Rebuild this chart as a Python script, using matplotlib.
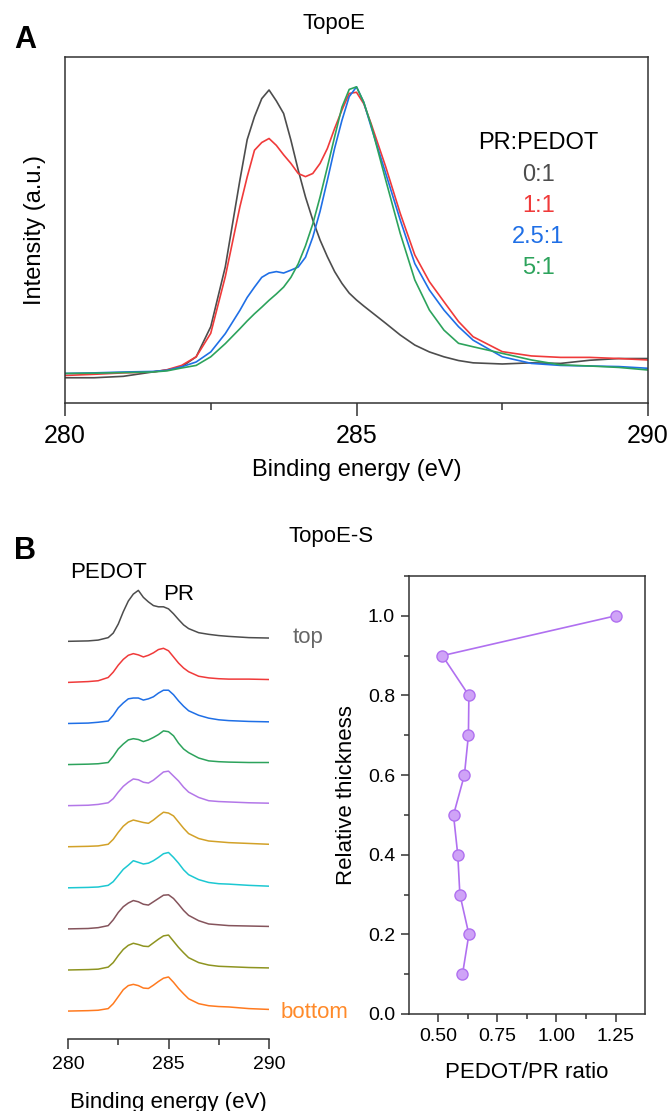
import matplotlib
matplotlib.use("Agg")
import matplotlib.pyplot as plt
from matplotlib.ticker import MultipleLocator, FormatStrFormatter

plt.rcParams['font.family'] = ['Liberation Sans', 'DejaVu Sans']

# ---------------- Panel A data ----------------
energy_a = [280, 280.5, 281, 281.5, 281.75, 282, 282.25, 282.5, 282.75,
            283, 283.125, 283.25, 283.375, 283.5, 283.625, 283.75, 283.875, 284, 284.125,
            284.25, 284.375, 284.5, 284.625, 284.75, 284.875, 285, 285.125, 285.25,
            285.5, 285.75, 286, 286.25, 286.5, 286.75, 287,
            287.5, 288, 288.5, 289, 289.5, 290]
int_0_1 = [-0.02, -0.02, -0.015, 0.0, 0.007, 0.018, 0.053, 0.158, 0.367,
           0.669, 0.81, 0.89, 0.953, 0.983, 0.945, 0.901, 0.808, 0.704, 0.61,
           0.53, 0.46, 0.402, 0.35, 0.309, 0.275, 0.251, 0.23, 0.21,
           0.17, 0.129, 0.094, 0.07, 0.053, 0.04, 0.032,
           0.028, 0.032, 0.03, 0.041, 0.047, 0.047]
int_1_1 = [-0.012, -0.008, -0.003, 0.0, 0.008, 0.023, 0.053, 0.135, 0.333,
           0.576, 0.68, 0.773, 0.80, 0.814, 0.79, 0.757, 0.727, 0.692, 0.681,
           0.692, 0.727, 0.779, 0.849, 0.913, 0.971, 0.975, 0.935, 0.866,
           0.716, 0.553, 0.408, 0.315, 0.245, 0.176, 0.123,
           0.071, 0.056, 0.051, 0.051, 0.047, 0.042]
int_25_1 = [-0.005, -0.003, 0.0, 0.002, 0.006, 0.018, 0.035, 0.07, 0.134,
            0.215, 0.26, 0.296, 0.33, 0.345, 0.35, 0.345, 0.355, 0.366, 0.40,
            0.47, 0.56, 0.668, 0.78, 0.877, 0.96, 0.994, 0.94, 0.855,
            0.693, 0.53, 0.378, 0.286, 0.216, 0.158, 0.111,
            0.053, 0.03, 0.023, 0.021, 0.019, 0.013]
int_5_1 = [-0.005, -0.004, -0.002, 0.0, 0.004, 0.014, 0.023, 0.053, 0.099,
           0.151, 0.178, 0.203, 0.226, 0.25, 0.272, 0.296, 0.33, 0.377, 0.44,
           0.516, 0.61, 0.714, 0.82, 0.923, 0.985, 0.994, 0.94, 0.861,
           0.67, 0.483, 0.321, 0.216, 0.146, 0.1, 0.088,
           0.065, 0.042, 0.025, 0.021, 0.016, 0.007]
ratio_labels = ["0:1", "1:1", "2.5:1", "5:1"]
colors_a = ["#4d4d4d", "#f03a3a", "#1f6fe6", "#2da35c"]

# ---------------- Panel B (left) data: depth profiles, top -> bottom ----------------
energy_b = [280, 281, 281.5, 282, 282.25, 282.5, 282.75, 283, 283.25, 283.5, 283.75, 284,
            284.25, 284.5, 284.75, 285, 285.25, 285.5, 285.75, 286, 286.5, 287, 287.5,
            288, 289, 290]
prof_1 = [0, 0.01, 0.03, 0.09, 0.20, 0.42, 0.72, 0.98, 1.15, 1.24, 1.07, 0.96,
          0.87, 0.84, 0.84, 0.79, 0.67, 0.53, 0.40, 0.31, 0.21, 0.17, 0.14,
          0.12, 0.09, 0.08]
prof_2 = [0, 0.02, 0.04, 0.12, 0.25, 0.42, 0.56, 0.66, 0.70, 0.67, 0.62, 0.66,
          0.72, 0.80, 0.83, 0.77, 0.62, 0.47, 0.35, 0.26, 0.15, 0.11, 0.09,
          0.08, 0.08, 0.07]
prof_3 = [0, 0.01, 0.03, 0.06, 0.20, 0.38, 0.50, 0.60, 0.62, 0.62, 0.57, 0.60,
          0.65, 0.74, 0.81, 0.81, 0.70, 0.55, 0.42, 0.31, 0.20, 0.13, 0.09,
          0.07, 0.05, 0.04]
prof_4 = [0, 0.01, 0.02, 0.05, 0.20, 0.38, 0.50, 0.60, 0.63, 0.61, 0.56, 0.60,
          0.66, 0.73, 0.82, 0.80, 0.70, 0.52, 0.38, 0.29, 0.16, 0.09, 0.07,
          0.06, 0.05, 0.05]
prof_5 = [0, 0.01, 0.03, 0.07, 0.17, 0.33, 0.47, 0.57, 0.65, 0.63, 0.57, 0.55,
          0.62, 0.72, 0.82, 0.84, 0.72, 0.60, 0.45, 0.33, 0.20, 0.12, 0.10,
          0.09, 0.07, 0.06]
prof_6 = [0, 0.01, 0.02, 0.06, 0.18, 0.35, 0.50, 0.60, 0.65, 0.62, 0.59, 0.57,
          0.65, 0.75, 0.84, 0.82, 0.75, 0.60, 0.45, 0.32, 0.20, 0.14, 0.12,
          0.10, 0.08, 0.06]
prof_7 = [0, 0.01, 0.02, 0.06, 0.15, 0.30, 0.45, 0.55, 0.66, 0.62, 0.58, 0.60,
          0.66, 0.74, 0.83, 0.86, 0.74, 0.60, 0.44, 0.32, 0.20, 0.13, 0.10,
          0.09, 0.06, 0.04]
prof_8 = [0, 0.01, 0.03, 0.08, 0.22, 0.40, 0.54, 0.63, 0.69, 0.66, 0.60, 0.58,
          0.66, 0.74, 0.82, 0.83, 0.74, 0.60, 0.45, 0.33, 0.20, 0.12, 0.10,
          0.08, 0.07, 0.06]
prof_9 = [0, 0.01, 0.02, 0.07, 0.18, 0.35, 0.50, 0.60, 0.65, 0.62, 0.58, 0.57,
          0.66, 0.75, 0.83, 0.85, 0.70, 0.55, 0.42, 0.30, 0.18, 0.12, 0.09,
          0.08, 0.06, 0.05]
prof_10 = [0, 0.01, 0.02, 0.06, 0.18, 0.35, 0.52, 0.62, 0.65, 0.62, 0.56, 0.55,
           0.63, 0.72, 0.80, 0.83, 0.70, 0.55, 0.42, 0.30, 0.18, 0.13, 0.11,
           0.10, 0.06, 0.04]
profiles = [prof_1, prof_2, prof_3, prof_4, prof_5, prof_6, prof_7, prof_8, prof_9, prof_10]
colors_b = ["#4d4d4d", "#f03a3a", "#1f6fe6", "#2da35c", "#b377e8",
            "#d2a128", "#1cc8d2", "#85545c", "#8e9420", "#ff7a1f"]

# ---------------- Panel B (right) data ----------------
pedot_pr_ratio = [1.25, 0.518, 0.630, 0.628, 0.611, 0.565, 0.583, 0.592, 0.630, 0.603]
rel_thickness = [1.0, 0.9, 0.8, 0.7, 0.6, 0.5, 0.4, 0.3, 0.2, 0.1]

W, H = 668, 1111
fig = plt.figure(figsize=(W / 100, H / 100), dpi=100)

def box(l, t, r, b):
    return [l / W, 1 - b / H, (r - l) / W, (b - t) / H]

spine_c = "#333333"

# ---------- Panel A ----------
axA = fig.add_axes(box(65, 57, 648, 403))
for y, c in zip([int_0_1, int_1_1, int_25_1, int_5_1], colors_a):
    axA.plot(energy_a, y, color=c, lw=1.2)
axA.set_xlim(280, 290)
axA.set_ylim(-0.108, 1.098)
axA.set_yticks([])
axA.xaxis.set_major_locator(MultipleLocator(5))
axA.xaxis.set_minor_locator(MultipleLocator(2.5))
axA.tick_params(axis='x', which='major', direction='out', length=9, width=1.1,
                labelsize=18, pad=6, color=spine_c)
axA.tick_params(axis='x', which='minor', direction='out', length=5, width=1.1, color=spine_c)
for s in axA.spines.values():
    s.set_linewidth(1.1)
    s.set_color(spine_c)
axA.set_xlabel("Binding energy (eV)", fontsize=17, labelpad=8)
axA.set_ylabel("Intensity (a.u.)", fontsize=17, labelpad=14)
axA.text(0.812, 0.752, "PR:PEDOT", transform=axA.transAxes, ha='center', va='center',
         fontsize=17, color='black')
for i, (lab, c) in enumerate(zip(ratio_labels, colors_a)):
    axA.text(0.812, 0.660 - i * 0.090, lab, transform=axA.transAxes, ha='center',
             va='center', fontsize=17, color=c)

fig.text(334 / W, 1 - 23 / H, "TopoE", ha='center', va='center', fontsize=16)
fig.text(25 / W, 1 - 40 / H, "A", ha='center', va='center', fontsize=22, fontweight='bold')

# ---------- Panel B left ----------
axB = fig.add_axes(box(68, 576, 269, 1039))
n = len(profiles)
for i, (p, c) in enumerate(zip(profiles, colors_b)):
    off = 0.68 + (n - 1 - i)
    axB.plot(energy_b, [v + off for v in p], color=c, lw=1.1)
axB.set_xlim(280, 290)
axB.set_ylim(0, 11.27)
axB.set_yticks([])
for k in ['left', 'top', 'right']:
    axB.spines[k].set_visible(False)
axB.spines['bottom'].set_linewidth(1.1)
axB.spines['bottom'].set_color(spine_c)
axB.xaxis.set_major_locator(MultipleLocator(5))
axB.xaxis.set_minor_locator(MultipleLocator(2.5))
axB.tick_params(axis='x', which='major', direction='out', length=7, width=1.1,
                labelsize=14, pad=5, color=spine_c)
axB.tick_params(axis='x', which='minor', direction='out', length=4, width=1.1, color=spine_c)
axB.set_xlabel("Binding energy (eV)", fontsize=16, labelpad=14)
fig.text(109 / W, 1 - 572 / H, "PEDOT", ha='center', va='center', fontsize=16)
fig.text(179 / W, 1 - 595 / H, "PR", ha='center', va='center', fontsize=16)
fig.text(308 / W, 1 - 638 / H, "top", ha='center', va='center', fontsize=16, color="#666666")
fig.text(315 / W, 1 - 1012 / H, "bottom", ha='center', va='center', fontsize=16,
         color="#ff8a2a")

fig.text(331 / W, 1 - 537 / H, "TopoE-S", ha='center', va='center', fontsize=16)
fig.text(25 / W, 1 - 551 / H, "B", ha='center', va='center', fontsize=22, fontweight='bold')

# ---------- Panel B right ----------
axC = fig.add_axes(box(409, 576, 645, 1014))
axC.plot(pedot_pr_ratio, rel_thickness, color="#b070f0", lw=1.2, marker='o',
         markersize=8, markerfacecolor="#cfa3f7", markeredgecolor="#b070f0",
         markeredgewidth=1.0)
axC.set_xlim(0.377, 1.374)
axC.set_ylim(0, 1.1)
axC.xaxis.set_major_locator(MultipleLocator(0.25))
axC.xaxis.set_minor_locator(MultipleLocator(0.125))
axC.yaxis.set_major_locator(MultipleLocator(0.2))
axC.yaxis.set_minor_locator(MultipleLocator(0.1))
axC.xaxis.set_major_formatter(FormatStrFormatter('%.2f'))
axC.yaxis.set_major_formatter(FormatStrFormatter('%.1f'))
axC.tick_params(which='major', direction='out', length=6, width=1.1, labelsize=14,
                pad=4, color=spine_c)
axC.tick_params(which='minor', direction='out', length=3.5, width=1.1, color=spine_c)
for s in axC.spines.values():
    s.set_linewidth(1.1)
    s.set_color(spine_c)
axC.set_xlabel("PEDOT/PR ratio", fontsize=16, labelpad=12)
axC.set_ylabel("Relative thickness", fontsize=16, labelpad=8)

fig.savefig("out.png", dpi=100)
